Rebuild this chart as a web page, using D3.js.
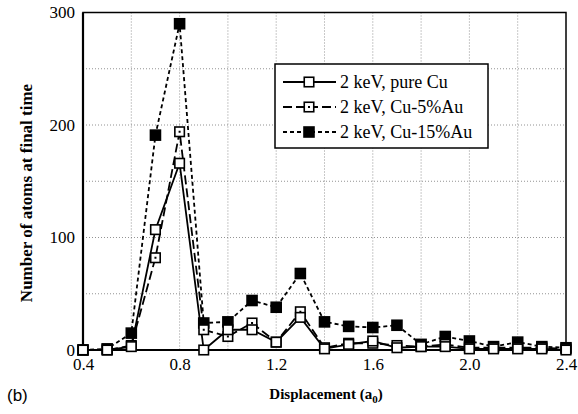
<!DOCTYPE html>
<html><head><meta charset="utf-8">
<script src="https://cdn.jsdelivr.net/npm/d3@7"></script>
<style>body{margin:0;background:#fff}svg{display:block}</style>
</head><body>
<svg id="chart" width="578" height="414"></svg>
<script>
const displacement = [0.4,0.5,0.6,0.7,0.8,0.9,1.0,1.1,1.2,1.3,1.4,1.5,1.6,1.7,1.8,1.9,2.0,2.1,2.2,2.3,2.4];
const pureCu   = [0,0,3,107,166,0,18,18,7,29,1,5,8,2,3,3,1,1,1,1,0];
const cu5Au    = [0,0,4,82,194,18,12,24,7,34,2,6,6,4,3,5,2,2,2,2,1];
const cu15Au   = [0,1,15,191,290,24,25,44,38,68,25,21,20,22,5,12,8,3,7,3,2];
const seriesNames = ["2 keV, pure Cu","2 keV, Cu-5%Au","2 keV, Cu-15%Au"];
const xTicks = [0.4,0.8,1.2,1.6,2.0,2.4];
const yTicks = [0,100,200,300];

const svg = d3.select("#chart");
const L=83,R=566,T=12.5,B=350;
const x = d3.scaleLinear().domain([0.4,2.4]).range([L,R]);
const y = d3.scaleLinear().domain([0,300]).range([B,T]);
const serif = "'Liberation Serif','Times New Roman',serif";

// grid
const g = svg.append("g");
g.selectAll(".vg").data(d3.range(0.6,2.31,0.2)).enter().append("line")
  .attr("x1",d=>x(d)).attr("x2",d=>x(d)).attr("y1",T).attr("y2",B)
  .attr("stroke","#777").attr("stroke-width",0.8).attr("stroke-dasharray","1,2");
g.selectAll(".hg").data(d3.range(50,251,50)).enter().append("line")
  .attr("x1",L).attr("x2",R).attr("y1",d=>y(d)).attr("y2",d=>y(d))
  .attr("stroke","#777").attr("stroke-width",0.8).attr("stroke-dasharray","1,2");

// frame
svg.append("rect").attr("x",L).attr("y",T).attr("width",R-L).attr("height",B-T)
  .attr("fill","none").attr("stroke","#000").attr("stroke-width",1.5);
svg.append("line").attr("x1",L).attr("x2",L).attr("y1",T).attr("y2",B).attr("stroke","#000").attr("stroke-width",2.2);
svg.append("line").attr("x1",L).attr("x2",R).attr("y1",B).attr("y2",B).attr("stroke","#000").attr("stroke-width",2.2);

// axes labels via d3 axes
const xAxis = svg.append("g").attr("transform",`translate(0,${B})`)
  .call(d3.axisBottom(x).tickValues(xTicks).tickFormat(d3.format(".1f")).tickSize(0).tickPadding(8));
xAxis.select(".domain").remove();
xAxis.selectAll("text").attr("font-family",serif).attr("font-size",17).attr("fill","#000");
const yAxis = svg.append("g").attr("transform",`translate(${L},0)`)
  .call(d3.axisLeft(y).tickValues(yTicks).tickSize(0).tickPadding(8));
yAxis.select(".domain").remove();
yAxis.selectAll("text").attr("font-family",serif).attr("font-size",17).attr("fill","#000");

// titles
svg.append("text").attr("transform",`translate(32,193) rotate(-90)`)
  .attr("text-anchor","middle").attr("font-family",serif).attr("font-weight","bold").attr("font-size",17)
  .text("Number of atoms at final time");
const xt = svg.append("text").attr("x",326).attr("y",399).attr("text-anchor","middle")
  .attr("font-family",serif).attr("font-weight","bold").attr("font-size",15);
xt.append("tspan").text("Displacement  (a");
xt.append("tspan").attr("font-size",11).attr("dy",4).text("0");
xt.append("tspan").attr("dy",-4).text(")");
svg.append("text").attr("x",7).attr("y",401).attr("font-family","'Liberation Sans',Arial,sans-serif")
  .attr("font-size",17).text("(b)");

const styles = [
  {data:pureCu, dash:null, fill:"#fff", dot:false},
  {data:cu5Au, dash:"9,4", fill:"#fff", dot:true},
  {data:cu15Au, dash:"4,3", fill:"#000", dot:false}
];
const line = d3.line().x((d,i)=>x(displacement[i])).y(d=>y(d));

function marker(sel, s, cx, cy){
  const sz = s.fill==="#000" ? 10 : 9.5;
  sel.append("rect").attr("x",cx-sz/2).attr("y",cy-sz/2).attr("width",sz).attr("height",sz)
    .attr("fill",s.fill).attr("stroke","#000").attr("stroke-width",1.6);
  if(s.dot) sel.append("rect").attr("x",cx-1).attr("y",cy-1).attr("width",2).attr("height",2).attr("fill","#000");
}

[2,1,0].forEach(k=>{
  const s = styles[k];
  svg.append("path").attr("d",line(s.data)).attr("fill","none").attr("stroke","#000")
    .attr("stroke-width",1.8).attr("stroke-dasharray",s.dash);
});
[2,1,0].forEach(k=>{
  const s = styles[k];
  const gg = svg.append("g");
  s.data.forEach((v,i)=>marker(gg,s,x(displacement[i]),y(v)));
});

// legend
const lg = svg.append("g");
lg.append("rect").attr("x",275).attr("y",64).attr("width",213).attr("height",84)
  .attr("fill","#fff").attr("stroke","#000").attr("stroke-width",1.5);
seriesNames.forEach((name,k)=>{
  const s = styles[k];
  const yy = 82 + k*25;
  lg.append("line").attr("x1",283).attr("x2",336).attr("y1",yy).attr("y2",yy)
    .attr("stroke","#000").attr("stroke-width",1.8).attr("stroke-dasharray",s.dash);
  marker(lg,s,309,yy);
  lg.append("text").attr("x",340).attr("y",yy+6).attr("font-family",serif).attr("font-size",18).text(name);
});
</script>
</body></html>
